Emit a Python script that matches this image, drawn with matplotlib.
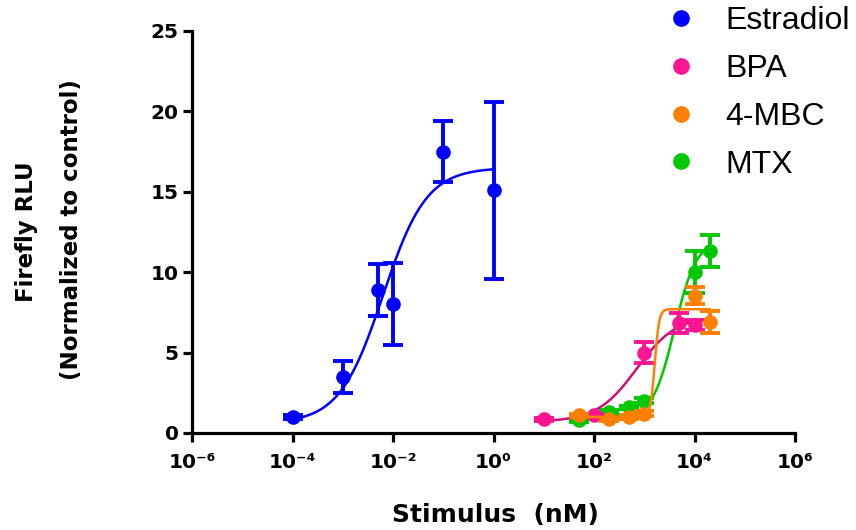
import numpy as np
import matplotlib
matplotlib.use("Agg")
import matplotlib.pyplot as plt
from matplotlib.lines import Line2D

# ---------------- data ----------------
series_names = ["Estradiol", "BPA", "4-MBC", "MTX"]

estradiol_x = [1e-4, 1e-3, 5e-3, 1e-2, 1e-1, 1e0]
estradiol_y = [1.0, 3.5, 8.9, 8.0, 17.5, 15.1]
estradiol_err = [0.1, 1.0, 1.6, 2.55, 1.9, 5.5]

bpa_x = [10, 100, 1000, 5000, 10000]
bpa_y = [0.85, 1.1, 5.0, 6.85, 6.7]
bpa_err = [0.1, 0.1, 0.65, 0.6, 0.3]

mbc_x = [50, 200, 500, 1000, 10000, 20000]
mbc_y = [1.1, 0.85, 1.0, 1.2, 8.55, 6.9]
mbc_err = [0.1, 0.1, 0.1, 0.15, 0.55, 0.7]

mtx_x = [50, 200, 500, 1000, 10000, 20000]
mtx_y = [0.8, 1.3, 1.6, 2.0, 10.0, 11.3]
mtx_err = [0.1, 0.1, 0.1, 0.15, 1.3, 1.0]

# four-parameter logistic fits: bottom, top, logEC50, hill slope
estradiol_fit = [0.6, 16.5, -2.2, 1.0]
bpa_fit = [0.7, 7.3, 2.85, 1.1]
mbc_fit = [1.0, 7.7, 3.21, 10.0]
mtx_fit = [0.9, 12.0, 3.6, 2.0]

x_tick_exponents = [-6, -4, -2, 0, 2, 4, 6]
x_tick_labels = ["10\u207b\u2076", "10\u207b\u2074", "10\u207b\u00b2", "10\u2070",
                 "10\u00b2", "10\u2074", "10\u2076"]
y_ticks = [0, 5, 10, 15, 20, 25]

colors = ["#0000FF", "#FF1493", "#FF8000", "#00C800"]
line_colors = ["#0000FF", "#CC1177", "#FF8000", "#00C800"]


def hill(x, p):
    bottom, top, logec50, h = p
    return bottom + (top - bottom) / (1 + 10 ** ((logec50 - np.log10(x)) * h))


# ---------------- figure ----------------
fig = plt.figure(figsize=(8.56, 5.30), dpi=100)
ax = fig.add_axes([192 / 856, 97 / 530, (795 - 192) / 856, (433 - 31) / 530])

datasets = [
    (estradiol_x, estradiol_y, estradiol_err, estradiol_fit, 0),
    (mtx_x, mtx_y, mtx_err, mtx_fit, 3),
    (bpa_x, bpa_y, bpa_err, bpa_fit, 1),
    (mbc_x, mbc_y, mbc_err, mbc_fit, 2),
]

z = 3
for xs, ys, es, fit, ci in datasets:
    xf = np.logspace(np.log10(min(xs)), np.log10(max(xs)), 400)
    ax.plot(xf, hill(xf, fit), color=line_colors[ci], lw=1.8, zorder=z)
    ax.errorbar(xs, ys, yerr=es, fmt="o", color=colors[ci], ms=9.5,
                elinewidth=2.8, capsize=7.5, capthick=2.8, zorder=z + 1,
                clip_on=False)
    z += 2

ax.set_xscale("log")
ax.set_xlim(1e-6, 1e6)
ax.set_ylim(0, 25)
ax.set_xticks([10.0 ** e for e in x_tick_exponents])
ax.set_xticklabels(x_tick_labels)
ax.xaxis.set_minor_locator(matplotlib.ticker.NullLocator())
ax.set_yticks(y_ticks)
ax.set_yticklabels([str(v) for v in y_ticks])

for s in ["top", "right"]:
    ax.spines[s].set_visible(False)
for s in ["left", "bottom"]:
    ax.spines[s].set_linewidth(2.3)

ax.tick_params(axis="both", which="major", length=6.5, width=2.3,
               direction="out", labelsize=14.5, colors="black")
ax.tick_params(axis="x", pad=8)
ax.tick_params(axis="y", pad=3)
for lab in ax.get_yticklabels() + ax.get_xticklabels():
    lab.set_fontweight("bold")

fig.text(495 / 856, 1 - 515 / 530, "Stimulus  (nM)", fontsize=18,
         fontweight="bold", ha="center", va="center")
fig.text(26 / 856, 1 - 232 / 530, "Firefly RLU", fontsize=16.5,
         fontweight="bold", rotation=90, ha="center", va="center")
fig.text(72 / 856, 1 - 230 / 530, "(Normalized to control)", fontsize=16.5,
         fontweight="bold", rotation=90, ha="center", va="center")

handles = [Line2D([], [], marker="o", ls="none", color=c, ms=11)
           for c in colors]
fig.legend(handles, series_names, loc="upper left",
           bbox_to_anchor=(663 / 856, 1 - 6 / 530), frameon=False,
           borderpad=0, borderaxespad=0,
           prop={"family": "Liberation Sans", "size": 23},
           handletextpad=0.85, labelspacing=0.56, handlelength=1.1)

fig.savefig("out.png", dpi=100)
